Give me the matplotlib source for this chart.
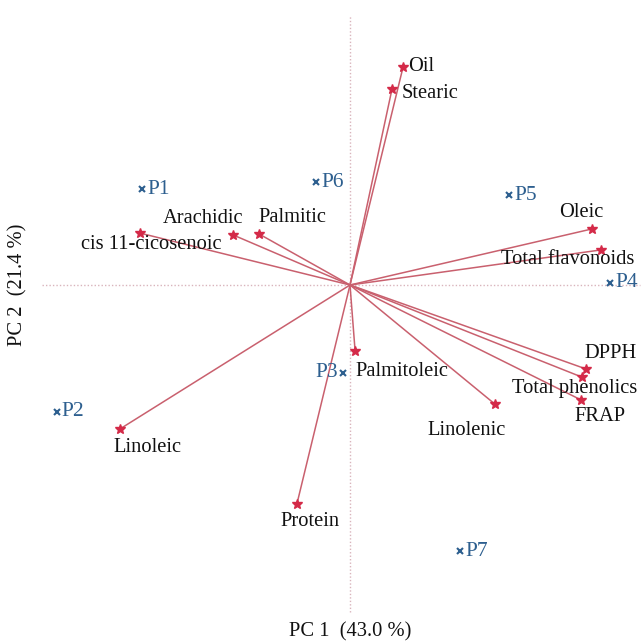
import matplotlib.pyplot as plt

plt.rcParams['font.family'] = ['Liberation Serif', 'DejaVu Serif']

# variable loadings (PC1, PC2)
variables = ["Oil", "Stearic", "Arachidic", "Palmitic", "cis 11-cicosenoic", "Oleic",
             "Total flavonoids", "DPPH", "Total phenolics", "FRAP", "Linolenic",
             "Palmitoleic", "Linoleic", "Protein"]
var_pc1 = [0.177, 0.140, -0.390, -0.303, -0.700, 0.807, 0.837, 0.787, 0.773, 0.770,
           0.483, 0.017, -0.767, -0.177]
var_pc2 = [0.727, 0.653, 0.167, 0.170, 0.173, 0.187, 0.117, -0.280, -0.307, -0.383,
           -0.397, -0.220, -0.480, -0.730]

# sample scores (PC1, PC2)
samples = ["P1", "P2", "P3", "P4", "P5", "P6", "P7"]
obs_pc1 = [-0.693, -0.977, -0.023, 0.867, 0.530, -0.113, 0.367]
obs_pc2 = [0.320, -0.423, -0.293, 0.007, 0.300, 0.343, -0.887]

# label placement (pixel offsets, horizontal alignment)
var_offsets = {
    "Oil": (5, 0, "left"), "Stearic": (10, -4, "left"), "Arachidic": (-30, 16, "center"),
    "Palmitic": (33, 17, "center"), "cis 11-cicosenoic": (11, -11, "center"),
    "Oleic": (-11, 16, "center"), "Total flavonoids": (-33, -10, "center"),
    "DPPH": (24, 16, "center"), "Total phenolics": (-7, -11, "center"),
    "FRAP": (19, -17, "center"), "Linolenic": (-28, -26, "center"),
    "Palmitoleic": (0, -20, "left"), "Linoleic": (28, -18, "center"),
    "Protein": (13, -17, "center"),
}

line_col = "#c9606e"
star_col = "#d42a48"
blue = "#2d5f8f"
axis_col = "#d9b4bc"

fig = plt.figure(figsize=(6.44, 6.43), dpi=100)
ax = fig.add_axes([0, 0, 1, 1])
ax.set_xlim(-350 / 300, 294 / 300)
ax.set_ylim(-358 / 300, 285 / 300)
ax.axis("off")

# dotted reference axes
ax.plot([0, 0], [-327 / 300, 270 / 300], ls=(0, (1, 1.5)), color=axis_col, lw=1)
ax.plot([-308 / 300, 290 / 300], [0, 0], ls=(0, (1, 1.5)), color=axis_col, lw=1)

for name, x, y in zip(variables, var_pc1, var_pc2):
    ax.plot([0, x], [0, y], color=line_col, lw=1.1, zorder=2)
    ax.plot(x, y, marker="*", color=star_col, ms=7, zorder=3)
    dx, dy, ha = var_offsets[name]
    ax.annotate(name, (x, y), xytext=(dx, dy), textcoords="offset pixels",
                ha=ha, va="center", fontsize=14.8, color="#111111")

for name, x, y in zip(samples, obs_pc1, obs_pc2):
    ax.plot(x, y, marker="x", color=blue, ms=5, mew=1.5, zorder=3)
    if name == "P3":
        ax.annotate(name, (x, y), xytext=(-5, 0), textcoords="offset pixels",
                    ha="right", va="center", fontsize=15.5, color=blue)
    else:
        ax.annotate(name, (x, y), xytext=(5, 0), textcoords="offset pixels",
                    ha="left", va="center", fontsize=15.5, color=blue)

fig.text(350 / 644, 1 - 632 / 643, "PC 1  (43.0 %)", ha="center", va="center",
         fontsize=14.8, color="#111111")
fig.text(18 / 644, 1 - 285 / 643, "PC 2  (21.4 %)", ha="center", va="center",
         rotation=90, fontsize=14.8, color="#111111")

fig.savefig("out.png", dpi=100)
